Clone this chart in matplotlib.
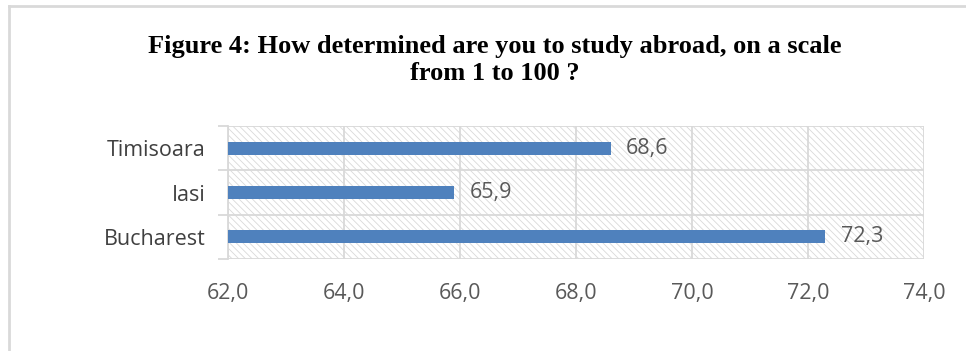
import matplotlib
matplotlib.use("Agg")
import matplotlib.pyplot as plt
from matplotlib.patches import Rectangle
from matplotlib.ticker import FixedLocator, FuncFormatter
import matplotlib.lines as mlines

cities = ["Bucharest", "Iasi", "Timisoara"]
scores = [72.3, 65.9, 68.6]
x_ticks = [62.0, 64.0, 66.0, 68.0, 70.0, 72.0, 74.0]

BAR = "#4f81bd"
GRID = "#d9d9d9"
TXT = "#595959"
FS = 15.5

plt.rcParams["hatch.linewidth"] = 0.6

fig = plt.figure(figsize=(9.66, 3.51), dpi=100)
ax = fig.add_axes([228 / 966, 1 - 259 / 351, (924 - 228) / 966, (259 - 126) / 351])

ax.set_xlim(x_ticks[0], x_ticks[-1])
ax.set_ylim(-0.5, len(cities) - 0.5)

# hatched plot-area background
ax.add_patch(Rectangle((0, 0), 1, 1, transform=ax.transAxes, facecolor="white",
                       edgecolor=GRID, hatch="\\\\\\\\\\", linewidth=0, zorder=0))

ypos = list(range(len(cities)))
ax.barh(ypos, [s - x_ticks[0] for s in scores], left=x_ticks[0], height=0.29,
        color=BAR, zorder=3)

for y, s in zip(ypos, scores):
    ax.annotate(f"{s:.1f}".replace(".", ","), (s, y), xytext=(11, 0),
                textcoords="offset points", va="center", ha="left",
                fontsize=FS, color=TXT, family="Open Sans", zorder=4)

ax.set_yticks(ypos)
ax.set_yticklabels(cities, fontsize=FS, color="#404040", family="Open Sans")
ax.yaxis.set_minor_locator(FixedLocator([i - 0.5 for i in range(len(cities) + 1)]))
ax.tick_params(axis="y", which="major", length=0, pad=16)
ax.tick_params(axis="y", which="minor", length=7, color=GRID, width=1.3)
ax.grid(axis="y", which="minor", color=GRID, linewidth=1.3, zorder=1)

ax.set_xticks(x_ticks)
ax.xaxis.set_major_formatter(FuncFormatter(lambda v, p: f"{v:.1f}".replace(".", ",")))
ax.tick_params(axis="x", length=0, pad=17, labelsize=FS, labelcolor=TXT)
for lab in ax.get_xticklabels():
    lab.set_family("Open Sans")
ax.grid(axis="x", color=GRID, linewidth=1.3, zorder=1)
ax.set_axisbelow(True)

for side in ["top", "right", "bottom"]:
    ax.spines[side].set_visible(False)
ax.spines["left"].set_color(GRID)
ax.spines["left"].set_linewidth(1.3)

fig.text(495 / 966, 1 - 46 / 351, "Figure 4: How determined are you to study abroad, on a scale",
         ha="center", va="center", fontsize=19, fontweight="bold", family="Liberation Serif")
fig.text(495 / 966, 1 - 74 / 351, "from 1 to 100 ?",
         ha="center", va="center", fontsize=19, fontweight="bold", family="Liberation Serif")

# chart frame (top and left edges)
fig.add_artist(mlines.Line2D([9 / 966, 1], [1 - 6 / 351, 1 - 6 / 351], color=GRID, lw=2,
                             transform=fig.transFigure))
fig.add_artist(mlines.Line2D([9 / 966, 9 / 966], [0, 1 - 6 / 351], color=GRID, lw=2,
                             transform=fig.transFigure))

fig.savefig("out.png", dpi=100)
